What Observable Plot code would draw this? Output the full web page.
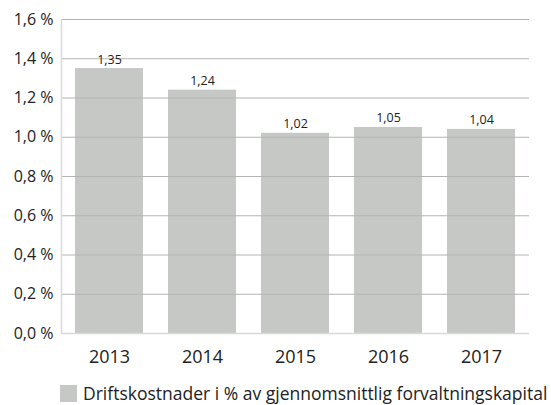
<!DOCTYPE html>
<html>
<head>
<meta charset="utf-8">
<script src="https://cdn.jsdelivr.net/npm/d3@7"></script>
<script src="https://cdn.jsdelivr.net/npm/@observablehq/plot@0.6"></script>
<style>
  html, body { margin: 0; padding: 0; background: #fff; }
  body { width: 551px; height: 405px; overflow: hidden; font-family: "Open Sans", sans-serif; color: #222; }
  #legend { display: flex; align-items: center; margin-left: 60px; margin-top: 10px; font-size: 17.5px; line-height: 18px; }
  #legend .sw { width: 17px; height: 17px; background: #c6c8c6; margin-right: 6px; flex: none; }
  #legend .t { white-space: nowrap; }
</style>
</head>
<body>
<div id="chart"></div>
<div id="legend"><span class="sw"></span><span class="t">Driftskostnader i % av gjennomsnittlig forvaltningskapital</span></div>
<script>
const years = ["2013", "2014", "2015", "2016", "2017"];
const values = [1.35, 1.24, 1.02, 1.05, 1.04];
const yTicks = [0, 0.2, 0.4, 0.6, 0.8, 1.0, 1.2, 1.4, 1.6];
const gridTicks = [0.2, 0.4, 0.6, 0.8, 1.0, 1.2, 1.4, 1.6];

const data = years.map((y, i) => ({year: y, value: values[i]}));
const fmtTick = d => d.toFixed(1).replace(".", ",") + " %";
const fmtVal = d => d.toFixed(2).replace(".", ",");

const chart = Plot.plot({
  width: 551,
  height: 374,
  marginTop: 19,
  marginBottom: 41,
  marginLeft: 61,
  marginRight: 22,
  style: {fontFamily: "'Open Sans', sans-serif", fontSize: "15px", color: "#222", background: "#fff"},
  x: {domain: years, paddingInner: 0.27, paddingOuter: 0.135, label: null},
  y: {domain: [0, 1.6], label: null},
  marks: [
    Plot.barY(data, {x: "year", y: "value", fill: "#c6c8c6"}),
    Plot.ruleY(gridTicks, {stroke: "#b4b4b4", strokeWidth: 1}),
    Plot.ruleY([0], {stroke: "#d9d9d9", strokeWidth: 1.5}),
    Plot.frame({anchor: "left", stroke: "#d9d9d9", strokeWidth: 1.5}),
    Plot.text(data, {x: "year", y: "value", text: d => fmtVal(d.value), dy: -9, fontSize: 12.5, fill: "#222"}),
    Plot.axisY({ticks: yTicks, tickFormat: fmtTick, tickSize: 0, tickPadding: 8, fontSize: 16, label: null}),
    Plot.axisX({tickSize: 0, tickPadding: 17, fontSize: 18, label: null})
  ]
});
document.getElementById("chart").appendChild(chart);
</script>
</body>
</html>
